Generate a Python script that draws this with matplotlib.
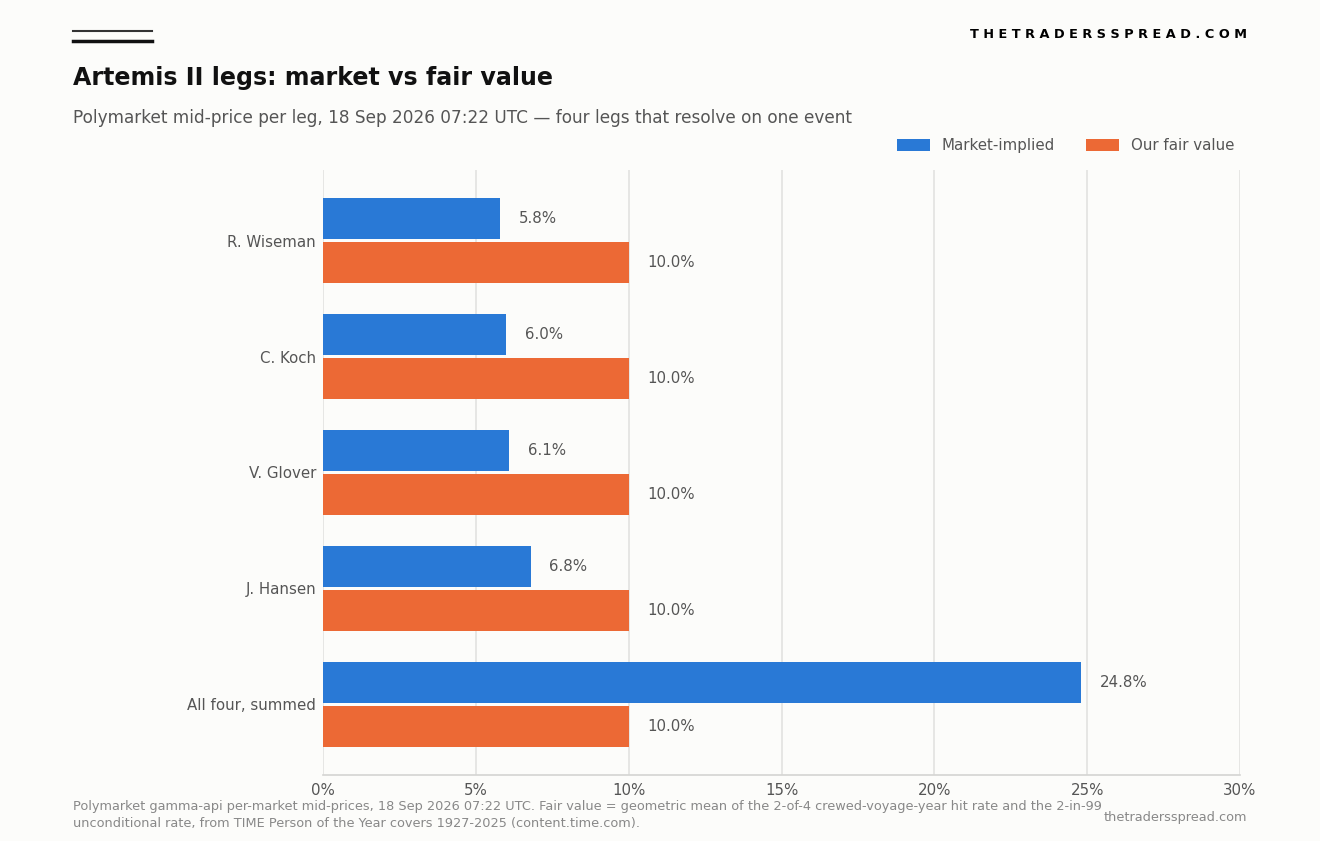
import matplotlib.pyplot as plt
from matplotlib.lines import Line2D
import numpy as np

plt.rcParams['font.family'] = ['DejaVu Sans']

# data
legs = ['R. Wiseman', 'C. Koch', 'V. Glover', 'J. Hansen', 'All four, summed']
market = [5.8, 6.0, 6.1, 6.8, 24.8]
fair = [10.0, 10.0, 10.0, 10.0, 10.0]
xticks = [0, 5, 10, 15, 20, 25, 30]

blue = '#2979d6'
orange = '#ec6935'
bg = '#fcfcfa'
grey_text = '#555555'
fs = 10.8

fig = plt.figure(figsize=(13.2, 8.41), dpi=100, facecolor=bg)
ax = fig.add_axes([0.2447, 0.0785, 0.6947, 0.7194], facecolor=bg)

y = np.arange(len(legs))
h = 0.355
ax.barh(y - 0.19, market, height=h, color=blue, label='Market-implied', zorder=3)
ax.barh(y + 0.19, fair, height=h, color=orange, label='Our fair value', zorder=3)

for yi, m, f in zip(y, market, fair):
    ax.text(m + 0.6, yi - 0.19, f'{m:.1f}%', va='center', ha='left',
            fontsize=fs, color=grey_text)
    ax.text(f + 0.6, yi + 0.19, f'{f:.1f}%', va='center', ha='left',
            fontsize=fs, color=grey_text)

ax.set_xlim(0, 30)
ax.set_ylim(4.61, -0.61)
ax.set_yticks(y)
ax.set_yticklabels(legs, fontsize=fs, color=grey_text)
ax.set_xticks(xticks)
ax.set_xticklabels([f'{t}%' for t in xticks], fontsize=fs, color=grey_text)
ax.tick_params(length=0, pad=5)
ax.tick_params(axis='x', pad=6)
ax.grid(axis='x', color='#e2e2e0', linewidth=1.2, zorder=0)
for s in ['top', 'right', 'left']:
    ax.spines[s].set_visible(False)
ax.spines['bottom'].set_color('#d4d4d2')
ax.spines['bottom'].set_linewidth(1.2)

ax.legend(loc='lower right', bbox_to_anchor=(1.0, 1.018), ncol=2, frameon=False,
          fontsize=fs, labelcolor=grey_text, handlelength=2.15, handleheight=0.8,
          columnspacing=2.1, borderaxespad=0.0)

# header
fig.add_artist(Line2D([73 / 1320, 152 / 1320], [1 - 31 / 841, 1 - 31 / 841],
                      color='#333333', linewidth=1.5))
fig.add_artist(Line2D([73 / 1320, 152 / 1320], [1 - 41 / 841, 1 - 41 / 841],
                      color='#111111', linewidth=2.5))
fig.text(73 / 1320, 1 - 78 / 841, 'Artemis II legs: market vs fair value',
         fontsize=17.1, fontweight='bold', color='#111111', va='center')
fig.text(73 / 1320, 1 - 118 / 841,
         'Polymarket mid-price per leg, 18 Sep 2026 07:22 UTC \u2014 four legs that resolve on one event',
         fontsize=12.15, color=grey_text, va='center')
fig.text(1247 / 1320, 1 - 34 / 841, 'T H E T R A D E R S S P R E A D . C O M',
         fontsize=9.3, fontweight='bold', color='#000000', va='center', ha='right')

# footer
fig.text(73 / 1320, 1 - 815 / 841,
         'Polymarket gamma-api per-market mid-prices, 18 Sep 2026 07:22 UTC. Fair value = geometric mean of the 2-of-4 crewed-voyage-year hit rate and the 2-in-99\n'
         'unconditional rate, from TIME Person of the Year covers 1927-2025 (content.time.com).',
         fontsize=9.3, color='#888888', va='center', linespacing=1.35)
fig.text(1247 / 1320, 1 - 818 / 841, 'thetradersspread.com',
         fontsize=9.3, color='#888888', va='center', ha='right')

fig.savefig('out.png', dpi=100, facecolor=bg)
